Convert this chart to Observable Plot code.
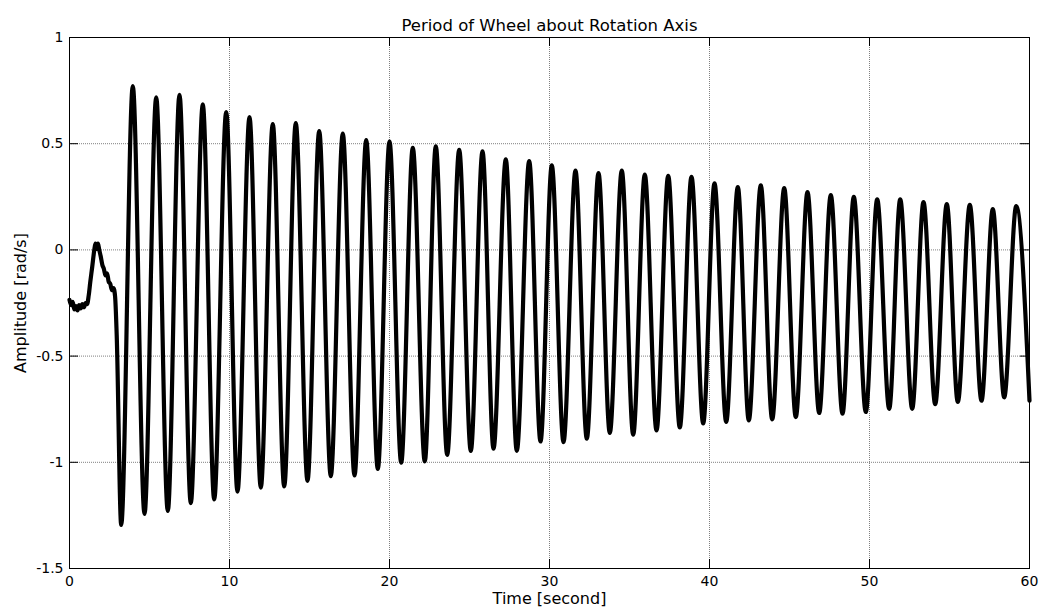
<!DOCTYPE html>
<html>
<head>
<meta charset="utf-8">
<script src="https://cdn.jsdelivr.net/npm/d3@7"></script>
<script src="https://cdn.jsdelivr.net/npm/@observablehq/plot@0.6"></script>
<style>
  html, body { margin: 0; padding: 0; background: #fff; }
  #chart { width: 1043px; height: 614px; }
</style>
</head>
<body>
<div id="chart"></div>
<script>
// Wheel angular velocity recorded about the rotation axis.
// Start-up segment before the oscillation settles in (time [s], amplitude [rad/s]).
const startTime = [0, 0.1, 0.2, 0.3, 0.4, 0.5, 0.6, 0.7, 0.8, 0.9, 1.0, 1.1, 1.2, 1.3, 1.42, 1.55, 1.62, 1.7, 1.78, 1.86, 1.95, 2.05, 2.15, 2.25, 2.35, 2.45, 2.55, 2.65, 2.75, 2.85, 2.95];
const startValue = [-0.235, -0.26, -0.245, -0.28, -0.265, -0.285, -0.26, -0.275, -0.255, -0.27, -0.25, -0.255, -0.215, -0.15, -0.08, 0.0, 0.03, 0.005, 0.03, 0.0, -0.03, -0.07, -0.09, -0.12, -0.11, -0.15, -0.16, -0.19, -0.18, -0.22, -0.4];

// Successive maxima of the free oscillation.
const peakTime = [3.956, 5.419, 6.875, 8.331, 9.794, 11.25, 12.706, 14.144, 15.606, 17.081, 18.544, 20.0, 21.456, 22.894, 24.356, 25.813, 27.269, 28.731, 30.144, 31.625, 33.063, 34.519, 35.956, 37.419, 38.875, 40.313, 41.769, 43.206, 44.669, 46.125, 47.581, 49.019, 50.481, 51.919, 53.375, 54.831, 56.269, 57.706, 59.169];
const peakValue = [0.771, 0.718, 0.730, 0.685, 0.649, 0.625, 0.592, 0.597, 0.559, 0.548, 0.517, 0.510, 0.481, 0.488, 0.471, 0.464, 0.426, 0.418, 0.398, 0.373, 0.362, 0.373, 0.354, 0.349, 0.344, 0.313, 0.296, 0.304, 0.291, 0.272, 0.258, 0.250, 0.238, 0.238, 0.225, 0.216, 0.212, 0.192, 0.206];

// Successive minima of the free oscillation.
const troughTime = [3.231, 4.688, 6.144, 7.581, 9.044, 10.5, 11.956, 13.419, 14.875, 16.331, 17.813, 19.269, 20.731, 22.206, 23.606, 25.081, 26.5, 27.956, 29.438, 30.875, 32.331, 33.769, 35.231, 36.688, 38.144, 39.606, 41.044, 42.456, 43.919, 45.394, 46.856, 48.313, 49.769, 51.231, 52.669, 54.106, 55.519, 57.0, 58.419];
const troughValue = [-1.295, -1.243, -1.229, -1.192, -1.175, -1.138, -1.119, -1.114, -1.087, -1.065, -1.062, -1.031, -1.002, -0.996, -0.965, -0.946, -0.936, -0.946, -0.902, -0.905, -0.889, -0.862, -0.870, -0.850, -0.836, -0.817, -0.810, -0.803, -0.798, -0.787, -0.768, -0.771, -0.763, -0.748, -0.748, -0.726, -0.716, -0.710, -0.694];

// Last recorded sample.
const endTime = [60];
const endValue = [-0.71];

const xTicks = [0, 10, 20, 30, 40, 50, 60];
const yTicks = [-1.5, -1, -0.5, 0, 0.5, 1];

const titleText = "Period of Wheel about Rotation Axis";
const xLabel = "Time [second]";
const yLabel = "Amplitude [rad/s]";

// Assemble the trace in time order.
const series = [];
startTime.forEach((t, i) => series.push({t, v: startValue[i]}));
peakTime.forEach((t, i) => series.push({t, v: peakValue[i]}));
troughTime.forEach((t, i) => series.push({t, v: troughValue[i]}));
endTime.forEach((t, i) => series.push({t, v: endValue[i]}));
series.sort((a, b) => a.t - b.t);

const W = 1043, H = 614;
const mL = 69, mR = 14, mT = 37, mB = 46;
const innerW = W - mL - mR, innerH = H - mT - mB;
const tickLen = 9;
const font = "Tahoma, 'DejaVu Sans', sans-serif";

const chart = Plot.plot({
  width: W,
  height: H,
  marginLeft: mL,
  marginRight: mR,
  marginTop: mT,
  marginBottom: mB,
  style: {fontFamily: font, fontSize: "14px", background: "#fff", color: "#000", overflow: "visible"},
  x: {domain: [0, 60]},
  y: {domain: [-1.5, 1]},
  marks: [
    Plot.gridX(xTicks, {stroke: "#808080", strokeOpacity: 1, strokeDasharray: "1,1"}),
    Plot.gridY(yTicks, {stroke: "#808080", strokeOpacity: 1, strokeDasharray: "1,1"}),
    Plot.line(series, {x: "t", y: "v", curve: "monotone-x", stroke: "#000", strokeWidth: 4.2, strokeLinejoin: "round", strokeLinecap: "round"}),
    Plot.frame({stroke: "#000", strokeWidth: 1}),
    // inward ticks on all four sides
    Plot.tickX(xTicks, {x: d => d, insetTop: innerH - tickLen, stroke: "#000"}),
    Plot.tickX(xTicks, {x: d => d, insetBottom: innerH - tickLen, stroke: "#000"}),
    Plot.tickY(yTicks, {y: d => d, insetRight: innerW - tickLen, stroke: "#000"}),
    Plot.tickY(yTicks, {y: d => d, insetLeft: innerW - tickLen, stroke: "#000"}),
    Plot.axisX({ticks: xTicks, tickSize: 0, tickPadding: 8, tickFormat: d => String(d), fontSize: 14, label: null}),
    Plot.axisY({ticks: yTicks, tickSize: 0, tickPadding: 6, tickFormat: d => String(d), fontSize: 14, label: null}),
    Plot.text([titleText], {frameAnchor: "top", dy: -18, fontSize: 16.5, fill: "#000"}),
    Plot.text([xLabel], {frameAnchor: "bottom", dy: 35, fontSize: 16, fill: "#000"}),
    Plot.text([yLabel], {frameAnchor: "left", textAnchor: "middle", dx: -49, rotate: -90, fontSize: 16, fill: "#000"})
  ]
});

document.getElementById("chart").appendChild(chart);
</script>
</body>
</html>
